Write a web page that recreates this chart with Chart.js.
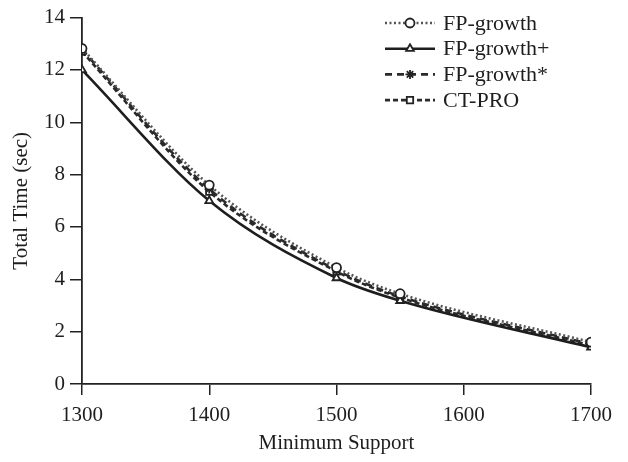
<!DOCTYPE html>
<html>
<head>
<meta charset="utf-8">
<script src="https://cdn.jsdelivr.net/npm/chart.js@4/dist/chart.umd.min.js"></script>
<style>
html,body{margin:0;padding:0;background:#fff;}
#wrap{width:628px;height:462px;position:relative;}
</style>
</head>
<body>
<div id="wrap"><canvas id="c" width="628" height="462"></canvas></div>
<script>
const supports = [1300, 1400, 1500, 1550, 1700];
const fpGrowth     = [12.82, 7.6, 4.45, 3.45, 1.6];
const fpGrowthPlus = [12.0, 7.0, 4.05, 3.18, 1.4];
const fpGrowthStar = [12.78, 7.45, 4.35, 3.35, 1.52];
const ctPro        = [12.7, 7.35, 4.3, 3.3, 1.48];
const seriesNames = ['FP-growth', 'FP-growth+', 'FP-growth*', 'CT-PRO'];
const yTicks = [0, 2, 4, 6, 8, 10, 12, 14];
const xTicks = [1300, 1400, 1500, 1600, 1700];

const FONT = "'Liberation Serif', 'Times New Roman', serif";

function pts(vals){ return supports.map((s,i)=>({x:s,y:vals[i]})); }

const styles = [
  {color:'#555', dash:[2,2.5], width:2.6, point:'circle'},
  {color:'#1e1e1e', dash:[], width:2.6, point:'triangle'},
  {color:'#2a2a2a', dash:[7,5], width:2.6, point:'star'},
  {color:'#2a2a2a', dash:[5,3], width:2.6, point:'rect'}
];
const values = [fpGrowth, fpGrowthPlus, fpGrowthStar, ctPro];

const datasets = values.map((v,i)=>({
  label: seriesNames[i],
  data: pts(v),
  borderColor: styles[i].color,
  borderDash: styles[i].dash,
  borderWidth: styles[i].width,
  pointStyle: styles[i].point,
  pointRadius: 4.5,
  pointBorderWidth: 1.8,
  pointBackgroundColor: '#fff',
  pointBorderColor: '#222',
  cubicInterpolationMode: 'monotone',
  fill: false
}));

const legendPlugin = {
  id: 'customLegend',
  afterDraw(chart){
    const ctx = chart.ctx;
    ctx.save();
    chart.data.datasets.forEach((ds,i)=>{
      const y = 23 + i*25.7;
      ctx.strokeStyle = ds.borderColor;
      ctx.lineWidth = ds.borderWidth;
      ctx.setLineDash(ds.borderDash);
      ctx.beginPath();
      ctx.moveTo(385, y);
      ctx.lineTo(435, y);
      ctx.stroke();
      ctx.setLineDash([]);
      ctx.fillStyle = '#fff';
      ctx.strokeStyle = '#222';
      ctx.lineWidth = 1.8;
      Chart.helpers.drawPoint(ctx, {pointStyle: ds.pointStyle, radius: 4.5, rotation: 0, borderWidth: 1.8}, 410, y);
      ctx.fillStyle = '#1e1e1e';
      ctx.font = '22px ' + FONT;
      ctx.textBaseline = 'middle';
      ctx.textAlign = 'left';
      ctx.fillText(ds.label, 443, y + 1);
    });
    ctx.restore();
  }
};

new Chart(document.getElementById('c'), {
  type: 'line',
  data: { datasets },
  options: {
    responsive: false,
    animation: false,
    devicePixelRatio: 1,
    layout: { padding: { top: 12, right: 37, left: 0, bottom: 0 } },
    plugins: { legend: { display: false }, tooltip: { enabled: false } },
    scales: {
      x: {
        type: 'linear',
        min: 1300, max: 1700,
        afterBuildTicks(axis){ axis.ticks = xTicks.map(v=>({value:v})); },
        afterFit(axis){ axis.height = 78; },
        grid: { drawOnChartArea: false, drawTicks: true, tickLength: 11, color: '#222', lineWidth: 1.5 },
        border: { display: true, color: '#222', width: 1.8 },
        ticks: { color: '#1e1e1e', font: { family: FONT, size: 21 }, padding: 8, maxRotation: 0, callback: v => String(v) },
        title: { display: true, text: 'Minimum Support', color: '#1e1e1e', font: { family: FONT, size: 21 }, padding: { top: 0, bottom: 6 } }
      },
      y: {
        min: 0, max: 14,
        afterBuildTicks(axis){ axis.ticks = yTicks.map(v=>({value:v})); },
        afterFit(axis){ axis.width = 82; },
        grid: { drawOnChartArea: false, drawTicks: true, tickLength: 12, color: '#222', lineWidth: 1.5 },
        border: { display: true, color: '#222', width: 1.8 },
        ticks: { color: '#1e1e1e', font: { family: FONT, size: 21 }, padding: 5, callback: v => String(v) },
        title: { display: true, text: 'Total Time (sec)', color: '#1e1e1e', font: { family: FONT, size: 21 }, padding: { top: 9, bottom: 0 } }
      }
    }
  },
  plugins: [legendPlugin]
});
</script>
</body>
</html>
